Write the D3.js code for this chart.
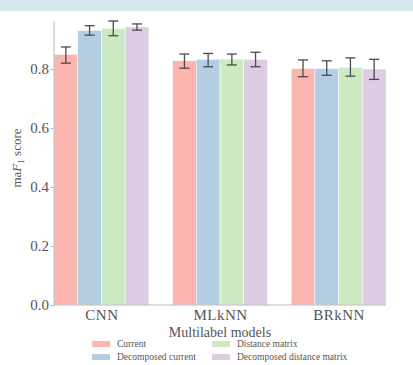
<!DOCTYPE html>
<html>
<head>
<meta charset="utf-8">
<script src="https://cdn.jsdelivr.net/npm/d3@7"></script>
<style>
  body { margin: 0; background: #fff; }
  svg { display: block; font-family: "Liberation Serif", "DejaVu Serif", serif; }
</style>
</head>
<body>
<div id="graph"></div>
<script>
// Datos
const modelos = ["CNN", "MLkNN", "BRkNN"];
const series = ["Current", "Decomposed current", "Distance matrix", "Decomposed distance matrix"];
const colores = ["#fbb4ae", "#b3cde3", "#ccebc5", "#decbe4"];
// valor medio por serie (en el orden de modelos)
const valCurrent = [0.850, 0.828, 0.802];
const valDecCurrent = [0.931, 0.833, 0.802];
const valDistance = [0.938, 0.834, 0.806];
const valDecDistance = [0.943, 0.833, 0.800];
// límites de las barras de error
const errLo = [[0.820, 0.803, 0.774], [0.915, 0.808, 0.779], [0.913, 0.814, 0.776], [0.932, 0.808, 0.765]];
const errHi = [[0.875, 0.851, 0.831], [0.947, 0.853, 0.828], [0.963, 0.851, 0.838], [0.953, 0.857, 0.833]];
const yTicks = [0.0, 0.2, 0.4, 0.6, 0.8];

const valores = [valCurrent, valDecCurrent, valDistance, valDecDistance];

const width = 413, height = 365;
const margin = {left: 54, right: 27, top: 21, bottom: 60};

const svg = d3.select("#graph").append("svg")
    .attr("width", width)
    .attr("height", height);

// banda superior
svg.append("rect").attr("x", 0).attr("y", 0).attr("width", width).attr("height", 11)
    .attr("fill", "#d6e7eb");

const x = d3.scaleLinear().domain([-0.4, 2.4]).range([margin.left, width - margin.right]);
const y = d3.scaleLinear().domain([0, 0.963]).range([height - margin.bottom, margin.top]);

const anchoBarra = 0.2;

const datos = [];
series.forEach((s, i) => {
    modelos.forEach((m, j) => {
        datos.push({serie: i, modelo: j, v: valores[i][j], lo: errLo[i][j], hi: errHi[i][j]});
    });
});

// barras
svg.append("g").selectAll("rect")
    .data(datos)
    .enter()
    .append("rect")
    .attr("x", d => x(d.modelo - 0.4 + d.serie * anchoBarra))
    .attr("width", x(anchoBarra) - x(0))
    .attr("y", d => y(d.v))
    .attr("height", d => y(0) - y(d.v))
    .attr("fill", d => colores[d.serie])
    .attr("stroke", "#fff")
    .attr("stroke-width", 0.5);

// barras de error
const err = svg.append("g").attr("stroke", "#4a4a4a").attr("stroke-width", 1.3);
datos.forEach(d => {
    const cx = x(d.modelo - 0.4 + (d.serie + 0.5) * anchoBarra);
    err.append("line").attr("x1", cx).attr("x2", cx).attr("y1", y(d.lo)).attr("y2", y(d.hi));
    err.append("line").attr("x1", cx - 5).attr("x2", cx + 5).attr("y1", y(d.lo)).attr("y2", y(d.lo));
    err.append("line").attr("x1", cx - 5).attr("x2", cx + 5).attr("y1", y(d.hi)).attr("y2", y(d.hi));
});

// ejes
const ejeY = svg.append("g")
    .attr("transform", `translate(${margin.left},0)`)
    .call(d3.axisLeft(y).tickValues(yTicks).tickFormat(d3.format(".1f")).tickSize(3.5).tickPadding(1.5))
    .attr("font-family", null);
ejeY.select(".domain").attr("stroke", "#bbb").attr("d", `M0,${y(0)}V${margin.top}`);
ejeY.selectAll(".tick line").attr("stroke", "#bbb");
ejeY.selectAll(".tick text").attr("fill", "#555").style("font-size", "15px");

const ejeX = svg.append("g")
    .attr("transform", `translate(0,${y(0)})`)
    .call(d3.axisBottom(x).tickValues([0, 1, 2]).tickFormat((d, i) => modelos[i]).tickSize(0).tickPadding(4))
    .attr("font-family", null);
ejeX.select(".domain").attr("stroke", "#bbb").attr("d", `M${margin.left},0H${width - margin.right}`);
ejeX.selectAll(".tick text").attr("fill", "#555").style("font-size", "15px").attr("letter-spacing", "0.5px");

// etiquetas de ejes
svg.append("text")
    .attr("x", (margin.left + width - margin.right) / 2)
    .attr("y", 337)
    .attr("text-anchor", "middle")
    .attr("fill", "#555")
    .style("font-size", "14px")
    .text("Multilabel models");

const etiquetaY = svg.append("text")
    .attr("transform", `translate(21,158) rotate(-90)`)
    .attr("text-anchor", "middle")
    .attr("fill", "#555")
    .style("font-size", "13px");
etiquetaY.append("tspan").text("ma");
etiquetaY.append("tspan").attr("font-style", "italic").text("F");
etiquetaY.append("tspan").attr("dy", 3).style("font-size", "9px").text("1");
etiquetaY.append("tspan").attr("dy", -3).text(" score");

// leyenda
const leyenda = svg.append("g");
series.forEach((s, i) => {
    const col = i === 0 || i === 1 ? 0 : 1;
    const fila = i % 2;
    const lx = col === 0 ? 92 : 212;
    const ly = 344 + fila * 13;
    leyenda.append("rect").attr("x", lx).attr("y", ly - 3).attr("width", 18).attr("height", 6)
        .attr("fill", colores[i]);
    leyenda.append("text").attr("x", lx + 25).attr("y", ly + 3)
        .attr("fill", "#555").style("font-size", "9.5px").text(s);
});
</script>
</body>
</html>
